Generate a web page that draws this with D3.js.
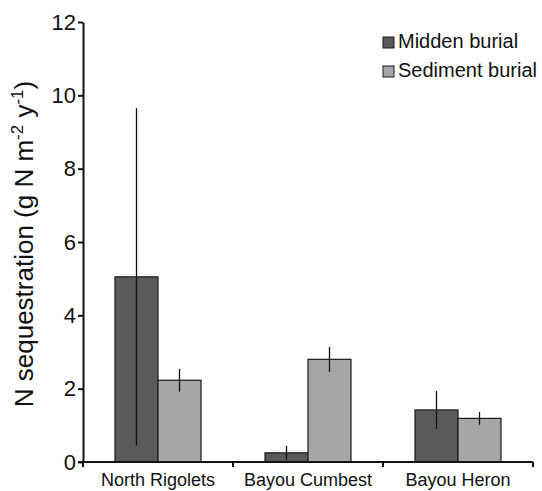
<!DOCTYPE html>
<html>
<head>
<meta charset="utf-8">
<script src="https://cdn.jsdelivr.net/npm/d3@7/dist/d3.min.js"></script>
<style>
  html, body { margin: 0; padding: 0; background: #fff; }
  svg { display: block; font-family: "Liberation Sans", Arial, sans-serif; }
</style>
</head>
<body>
<svg id="chart" width="542" height="491"></svg>
<script>
// Nitrogen sequestration by site and burial type
const sites = ["North Rigolets", "Bayou Cumbest", "Bayou Heron"];
const seriesNames = ["Midden burial", "Sediment burial"];
const middenValues = [5.05, 0.25, 1.42];
const middenErrors = [4.6, 0.19, 0.52];
const sedimentValues = [2.23, 2.80, 1.19];
const sedimentErrors = [0.31, 0.34, 0.17];
const yTicks = [0, 2, 4, 6, 8, 10, 12];
const seriesColors = ["#5a5a5a", "#a6a6a6"];

const svg = d3.select("#chart");
const plotLeft = 83, plotRight = 533, plotTop = 22, plotBottom = 462;

const x = d3.scaleBand().domain(sites).range([plotLeft, plotRight]).paddingInner(0).paddingOuter(0);
const xSub = d3.scaleBand().domain(seriesNames).range([0, 86]);
const y = d3.scaleLinear().domain([0, 12]).range([plotBottom, plotTop]);

const rows = [];
sites.forEach((s, i) => {
  rows.push({ site: s, series: seriesNames[0], value: middenValues[i], err: middenErrors[i], color: seriesColors[0] });
  rows.push({ site: s, series: seriesNames[1], value: sedimentValues[i], err: sedimentErrors[i], color: seriesColors[1] });
});

const groupOffset = (x.bandwidth() - 86) / 2;
const barX = d => x(d.site) + groupOffset + xSub(d.series);

// bars
svg.append("g").selectAll("rect").data(rows).join("rect")
  .attr("x", barX)
  .attr("y", d => y(d.value))
  .attr("width", xSub.bandwidth())
  .attr("height", d => y(0) - y(d.value))
  .attr("fill", d => d.color)
  .attr("stroke", "#1a1a1a")
  .attr("stroke-width", 1.2);

// error bars
svg.append("g").selectAll("line").data(rows).join("line")
  .attr("x1", d => barX(d) + xSub.bandwidth() / 2)
  .attr("x2", d => barX(d) + xSub.bandwidth() / 2)
  .attr("y1", d => y(d.value + d.err))
  .attr("y2", d => y(Math.max(0, d.value - d.err)))
  .attr("stroke", "#111")
  .attr("stroke-width", 1.3);

// y axis
const yAxis = svg.append("g")
  .attr("transform", `translate(${plotLeft},0)`)
  .call(d3.axisLeft(y).tickValues(yTicks).tickSize(5).tickSizeOuter(0).tickFormat(d3.format("d")));
yAxis.select(".domain").attr("stroke", "#111").attr("stroke-width", 2);
yAxis.selectAll(".tick line").attr("stroke", "#111").attr("stroke-width", 2);
yAxis.selectAll(".tick text").attr("font-size", 22).attr("fill", "#111")
  .attr("x", -7).attr("font-family", "Liberation Sans, Arial, sans-serif");

// x axis with ticks at category boundaries
svg.append("line")
  .attr("x1", plotLeft - 5).attr("x2", plotRight)
  .attr("y1", plotBottom).attr("y2", plotBottom)
  .attr("stroke", "#111").attr("stroke-width", 2);
const boundaries = [x(sites[0]), x(sites[1]), x(sites[2]), x(sites[2]) + x.bandwidth()];
svg.append("g").selectAll("line").data(boundaries).join("line")
  .attr("x1", d => d).attr("x2", d => d)
  .attr("y1", plotBottom).attr("y2", plotBottom + 5)
  .attr("stroke", "#111").attr("stroke-width", 2);
svg.append("g").selectAll("text").data(sites).join("text")
  .attr("x", d => x(d) + x.bandwidth() / 2)
  .attr("y", 486)
  .attr("text-anchor", "middle")
  .attr("font-size", 18)
  .attr("fill", "#111")
  .text(d => d);

// y-axis title
const title = svg.append("text")
  .attr("transform", "translate(33,244) rotate(-90)")
  .attr("text-anchor", "middle")
  .attr("font-size", 26)
  .attr("fill", "#111");
title.append("tspan").text("N sequestration (g N m");
title.append("tspan").attr("font-size", 17).attr("dy", -10).text("-2");
title.append("tspan").attr("dy", 10).text(" y");
title.append("tspan").attr("font-size", 17).attr("dy", -10).text("-1");
title.append("tspan").attr("dy", 10).text(")");

// legend
const legend = svg.append("g").selectAll("g").data(seriesNames).join("g")
  .attr("transform", (d, i) => `translate(383,${37 + i * 29})`);
legend.append("rect")
  .attr("width", 11).attr("height", 11)
  .attr("fill", (d, i) => seriesColors[i])
  .attr("stroke", "#1a1a1a").attr("stroke-width", 1);
legend.append("text")
  .attr("x", 15).attr("y", 11)
  .attr("font-size", 20)
  .attr("fill", "#111")
  .text(d => d);
</script>
</body>
</html>
